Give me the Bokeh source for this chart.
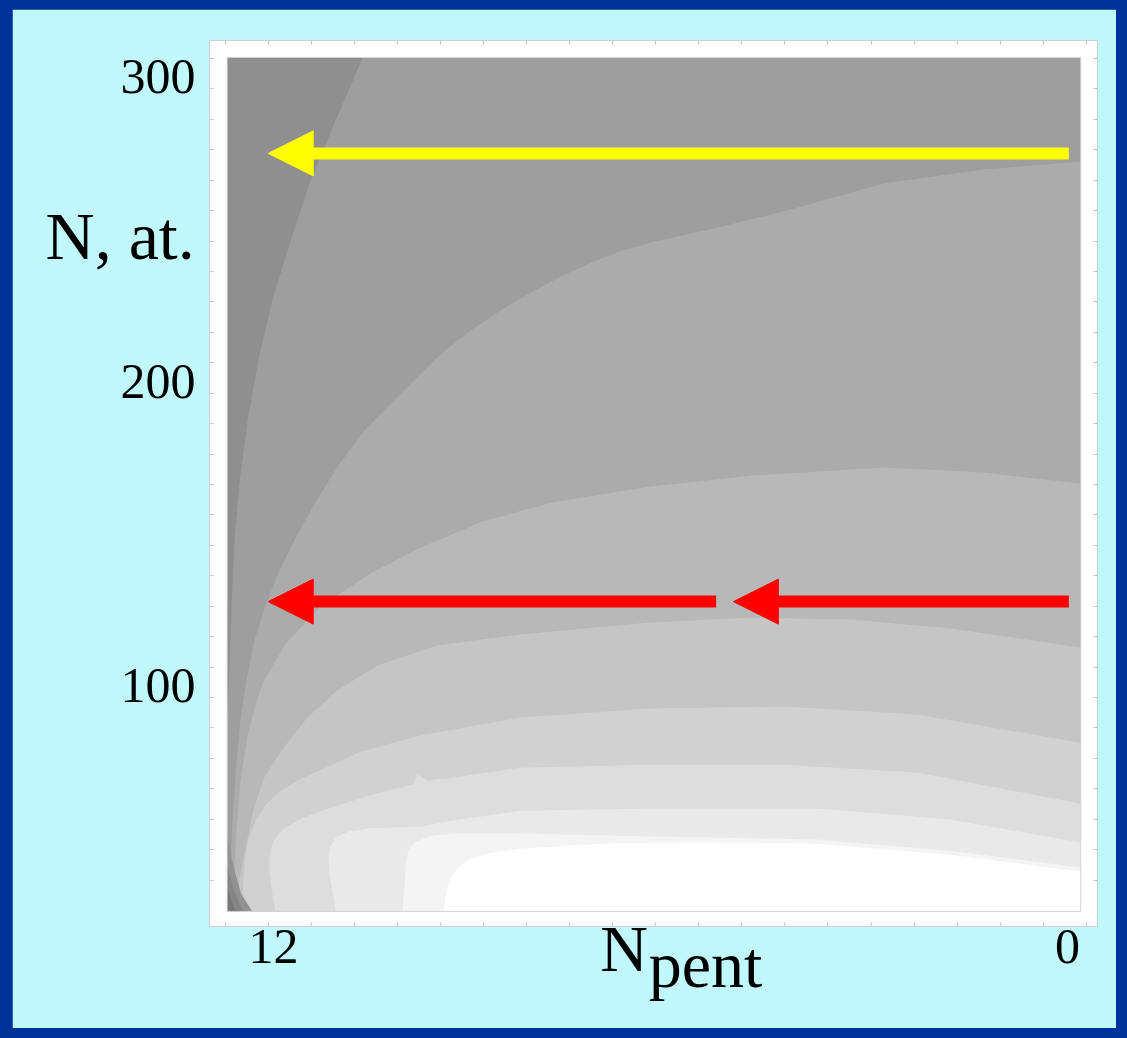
from bokeh.plotting import figure
from bokeh.models import (Range1d, FixedTicker, LinearAxis, Arrow,
                          NormalHead, GlobalInlineStyleSheet)
from bokeh.core.properties import value
from bokeh.embed import file_html
from bokeh.resources import INLINE

# ---------------- axis ticks / labels ----------------
X_TICKS = [12, 0]
Y_TICKS = [100, 200, 300]
X_FRAME_TICKS = [12.72, 12.07, 11.42, 10.77, 10.12, 9.47, 8.82, 8.17, 7.52, 6.87,
                 6.22, 5.57, 4.92, 4.27, 3.62, 2.97, 2.32, 1.67, 1.02, 0.37, -0.28]
Y_FRAME_TICKS = [36, 46, 56, 66, 76, 86, 96, 106, 116, 126, 136, 146, 156, 166,
                 176, 186, 196, 206, 216, 226, 236, 246, 256, 266, 276, 286, 296, 306]

# extent of the computed map (N_pent decreases to the right)
NPENT_LEFT, NPENT_RIGHT = 12.7, -0.2
N_BOTTOM, N_TOP = 25.7, 306.3

# ---------------- contour boundaries ----------------
# darkest region at top-left (bounded by top and left edges)
A_NPENT = [12.70, 10.65, 11.06, 11.44, 11.74, 12.02, 12.23, 12.39, 12.51, 12.59, 12.63, 12.66, 12.70]
A_N = [306.3, 306.3, 285.6, 265.9, 246.2, 226.4, 206.7, 187.0, 167.3, 147.5, 127.8, 108.1, 88.4]

# contours running from the right edge to the bottom edge (outer -> inner)
B_NPENT = [-0.2, 1.27, 2.78, 4.29, 5.24, 6.30, 6.76, 7.21, 7.66, 8.11, 8.57, 9.02, 9.48,
           9.85, 10.23, 10.65, 11.02, 11.35, 11.65, 11.91, 12.12, 12.29, 12.41, 12.50,
           12.57, 12.62, 12.65, 12.66]
B_N = [272.1, 269.5, 264.9, 255.7, 250.7, 245.5, 242.6, 238.9, 234.3, 229.1, 223.2, 216.6, 208.7,
       200.8, 192.6, 183.1, 172.2, 160.7, 149.2, 137.7, 126.2, 114.7, 101.6, 88.4,
       72.0, 55.5, 39.1, 25.7]

C_NPENT = [-0.2, 1.27, 2.78, 4.79, 6.30, 7.81, 8.87, 9.78, 10.53, 11.29, 11.82, 12.17,
           12.38, 12.50, 12.57, 12.60]
C_N = [166.3, 169.9, 171.6, 168.9, 165.3, 160.0, 153.6, 145.2, 136.8, 125.9, 113.6, 100.5,
       85.1, 68.7, 49.0, 25.7]

D_NPENT = [-0.2, 1.77, 3.28, 4.79, 6.30, 8.27, 9.52, 10.43, 11.04, 11.50, 11.88, 12.14,
           12.30, 12.42, 12.52, 12.57]
D_N = [112.4, 118.7, 121.6, 122.3, 120.6, 116.7, 113.1, 106.5, 98.3, 89.1, 78.5, 69.7,
       59.5, 46.6, 36.1, 25.7]

E_NPENT = [-0.2, 2.27, 4.29, 6.30, 8.27, 9.78, 10.68, 11.14, 11.59, 11.89, 12.12,
           12.27, 12.38, 12.44, 12.46, 12.45]
E_N = [81.1, 90.4, 93.0, 92.4, 89.4, 83.5, 78.2, 73.6, 69.2, 65.4, 60.7, 55.6, 49.3,
       41.8, 33.5, 25.7]

F_NPENT = [-0.2, 2.27, 4.29, 6.30, 8.27, 9.28, 9.67, 9.82, 9.90, 10.34, 10.79, 11.21,
           11.55, 11.85, 12.00, 12.06, 12.06, 12.02, 11.97]
F_N = [61.1, 71.3, 73.9, 73.9, 72.9, 69.7, 68.7, 70.7, 67.4, 65.1, 62.1, 59.2, 56.5,
       52.9, 48.9, 44.3, 38.1, 31.8, 25.7]

G_NPENT = [-0.2, 1.77, 3.78, 6.30, 8.27, 9.28, 9.78, 10.53, 10.88, 11.06, 11.14, 11.17,
           11.15, 11.10, 11.06]
G_N = [48.3, 55.9, 59.5, 59.5, 58.8, 55.6, 53.6, 53.0, 51.9, 49.9, 47.1, 42.8, 37.1,
       31.2, 25.7]

H_NPENT = [-0.2, 1.77, 3.78, 6.30, 8.27, 9.28, 9.63, 9.85, 9.96, 10.00, 10.02, 10.05]
H_N = [40.1, 45.6, 49.3, 50.3, 51.3, 51.3, 50.5, 48.6, 45.9, 41.5, 34.1, 25.7]

W_NPENT = [-0.2, 1.77, 3.78, 5.55, 7.06, 8.27, 8.72, 9.02, 9.20, 9.32, 9.39, 9.43]
W_N = [38.8, 44.3, 47.9, 48.3, 47.9, 46.3, 44.9, 43.0, 40.2, 36.8, 31.6, 25.7]

# darker arcs in the bottom-left corner
K1_NPENT = [12.70, 12.60, 12.49, 12.32]
K1_N = [50.7, 40.0, 31.5, 25.7]
K2_NPENT = [12.70, 12.61, 12.52, 12.45]
K2_N = [40.8, 33.5, 28.5, 25.7]
K3_NPENT = [12.70, 12.62, 12.57]
K3_N = [33.2, 28.3, 25.7]

BASE_COLOR = "#9E9E9E"
A_COLOR = "#8F8F8F"
LIGHT_LEVELS = [
    (B_NPENT, B_N, "#ABABAB"),
    (C_NPENT, C_N, "#B8B8B8"),
    (D_NPENT, D_N, "#C5C5C5"),
    (E_NPENT, E_N, "#D1D1D1"),
    (F_NPENT, F_N, "#DDDDDD"),
    (G_NPENT, G_N, "#E9E9E9"),
    (H_NPENT, H_N, "#F4F4F4"),
    (W_NPENT, W_N, "#FFFFFF"),
]
CORNER_LEVELS = [
    (K1_NPENT, K1_N, "#929292"),
    (K2_NPENT, K2_N, "#858585"),
    (K3_NPENT, K3_N, "#777777"),
]

# arrows: (N, N_pent start, N_pent end, colour)
ARROWS = [
    (274.8, -0.02, 12.08, "#FFFF00"),
    (127.5, -0.02, 5.05, "#FF0000"),
    (127.5, 5.31, 12.08, "#FF0000"),
]

# axis titles
Y_TITLE = "N, at."
X_TITLE_MAIN = "N"
X_TITLE_SUB = "pent"

CYAN = "#C0F8FC"
BLUE = "#003399"
SERIF = "Liberation Serif"

p = figure(width=1104, height=1019,
           x_range=Range1d(12.967, -0.453), y_range=Range1d(20.73, 311.9),
           output_backend="svg", toolbar_location=None,
           min_border_left=197, min_border_right=19,
           min_border_top=31, min_border_bottom=102,
           background_fill_color="white", border_fill_color=CYAN,
           outline_line_color="#cfcfcf")
p.margin = (9, 0, 0, 12)
p.stylesheets = [GlobalInlineStyleSheet(css="html, body { background-color: %s !important; }" % BLUE)]
p.grid.visible = False

# base of the map
p.quad(left=NPENT_LEFT, right=NPENT_RIGHT, bottom=N_BOTTOM, top=N_TOP,
       fill_color=BASE_COLOR, line_color=None)

# darkest top-left band
p.patch(A_NPENT + [NPENT_LEFT], A_N + [N_TOP], fill_color=A_COLOR, line_color=None)

# lighter bands (each closed through the bottom-right corner)
for xs, ys, col in LIGHT_LEVELS:
    p.patch(xs + [NPENT_RIGHT], ys + [N_BOTTOM], fill_color=col, line_color=None)

# dark corner bands (closed through the bottom-left corner)
for xs, ys, col in CORNER_LEVELS:
    p.patch(xs + [NPENT_LEFT], ys + [N_BOTTOM], fill_color=col, line_color=None)

# thin border round the map
p.quad(left=NPENT_LEFT, right=NPENT_RIGHT, bottom=N_BOTTOM, top=N_TOP,
       fill_color=None, line_color="#d4d4d4", line_width=1)

# arrows
for n, x0, x1, col in ARROWS:
    p.add_layout(Arrow(x_start=x0, y_start=n, x_end=x1, y_end=n,
                       line_color=col, line_width=12,
                       end=NormalHead(size=45, fill_color=col, line_color=col, line_width=1)))

# axes
def style_axis(ax, ticker, show_labels):
    ax.ticker = ticker
    ax.axis_line_color = None
    ax.major_tick_line_color = None
    ax.major_tick_in = 0
    ax.major_tick_out = 0
    ax.minor_tick_in = 4
    ax.minor_tick_out = 0
    ax.minor_tick_line_color = "#c4c4c4"
    ax.major_label_text_font = SERIF
    ax.major_label_text_color = "black"
    if show_labels:
        ax.major_label_text_font_size = "50px"
    else:
        ax.major_label_text_font_size = "0px"
        ax.major_label_standoff = 0
        ax.axis_label_standoff = 0

style_axis(p.xaxis[0], FixedTicker(ticks=X_TICKS, minor_ticks=X_FRAME_TICKS), True)
p.xaxis[0].major_label_standoff = 3
style_axis(p.yaxis[0], FixedTicker(ticks=Y_TICKS, minor_ticks=Y_FRAME_TICKS), True)
p.yaxis[0].major_label_standoff = 14

top_ax = LinearAxis()
style_axis(top_ax, FixedTicker(ticks=[], minor_ticks=X_FRAME_TICKS), False)
p.add_layout(top_ax, "above")
right_ax = LinearAxis()
style_axis(right_ax, FixedTicker(ticks=[], minor_ticks=Y_FRAME_TICKS), False)
p.add_layout(right_ax, "right")

# axis titles: text drawn on the overlay level so that it is not clipped to the frame
def title(txt, x, y, size):
    p.text(x=[x], y=[y], text=[txt], text_font=value(SERIF),
           text_font_size=value(size), text_color="black",
           text_align="left", text_baseline="alphabetic", level="overlay")

title(Y_TITLE, 15.445, 247.8, "68px")
title(X_TITLE_MAIN, 7.06, 13.5, "66px")
title(X_TITLE_SUB, 6.33, 8.3, "66px")

open("out.html", "w").write(file_html(p, INLINE))
